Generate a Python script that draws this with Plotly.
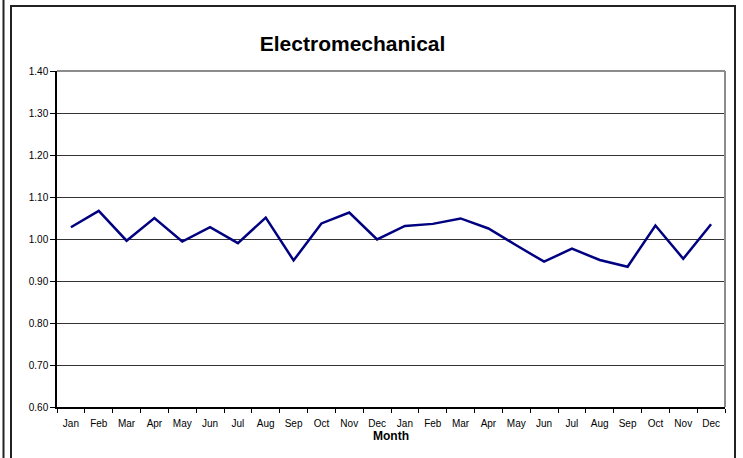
import plotly.graph_objects as go

months = ["Jan", "Feb", "Mar", "Apr", "May", "Jun", "Jul", "Aug", "Sep", "Oct", "Nov", "Dec",
          "Jan", "Feb", "Mar", "Apr", "May", "Jun", "Jul", "Aug", "Sep", "Oct", "Nov", "Dec"]
values = [1.028, 1.067, 0.996, 1.050, 0.994, 1.028, 0.990, 1.051, 0.949, 1.037, 1.063, 0.999,
          1.031, 1.036, 1.049, 1.025, 0.985, 0.946, 0.977, 0.950, 0.934, 1.032, 0.953, 1.035]
y_ticks = [0.6, 0.7, 0.8, 0.9, 1.0, 1.1, 1.2, 1.3, 1.4]

W, H = 743, 458
L, R, T, B = 57, 725, 71, 407

x_idx = list(range(len(months)))

fig = go.Figure()
fig.add_trace(go.Scatter(x=x_idx, y=values, mode="lines",
                         line=dict(color="#000080", width=2.5), showlegend=False,
                         hoverinfo="y"))

def px(x):
    return (x - L) / (R - L)

def py(y):
    return (B - y) / (B - T)

shapes = [
    # outer left line
    dict(type="line", xref="paper", yref="paper", x0=px(3.5), x1=px(3.5), y0=py(0), y1=py(470),
         line=dict(color="#222", width=2)),
    # chart box
    dict(type="rect", xref="paper", yref="paper", x0=px(11), x1=px(735), y0=py(6), y1=py(470),
         line=dict(color="#222", width=2)),
    # plot area top & right (gray)
    dict(type="line", xref="paper", yref="paper", x0=0, x1=1, y0=1, y1=1,
         line=dict(color="#8c8c8c", width=2)),
    dict(type="line", xref="paper", yref="paper", x0=1, x1=1, y0=0, y1=1,
         line=dict(color="#8c8c8c", width=2)),
]

fig.update_layout(
    width=W, height=H,
    margin=dict(l=L, r=W - R, t=T, b=H - B),
    paper_bgcolor="white", plot_bgcolor="white",
    font=dict(family="Liberation Sans, Arial, sans-serif", color="black", size=10),
    title=dict(text="<b>Electromechanical</b>", x=px(374), xanchor="center",
               y=1 - 44 / H, yanchor="middle", font=dict(size=21, color="black")),
    shapes=shapes,
    xaxis=dict(
        range=[-0.5, len(months) - 0.5],
        tickmode="array", tickvals=x_idx, ticktext=months,
        ticks="", showgrid=False, zeroline=False,
        showline=True, linecolor="black", linewidth=1.5,
        tickfont=dict(size=10), ticklabelstandoff=6,
        minor=dict(tick0=-0.5, dtick=1, ticks="outside", ticklen=4, tickcolor="black",
                   showgrid=False),
        title=dict(text="<b>Month</b>", font=dict(size=12), standoff=3),
    ),
    yaxis=dict(
        range=[0.6, 1.4],
        tickmode="array", tickvals=y_ticks, ticktext=[f"{v:.2f}" for v in y_ticks],
        ticks="outside", ticklen=5, tickcolor="black",
        showgrid=True, gridcolor="#333", gridwidth=1,
        zeroline=False, showline=True, linecolor="black", linewidth=1.5,
        tickfont=dict(size=10),
    ),
)

fig.write_html("out.html", config={"displayModeBar": False},
               post_script="document.body.style.margin='0';")
